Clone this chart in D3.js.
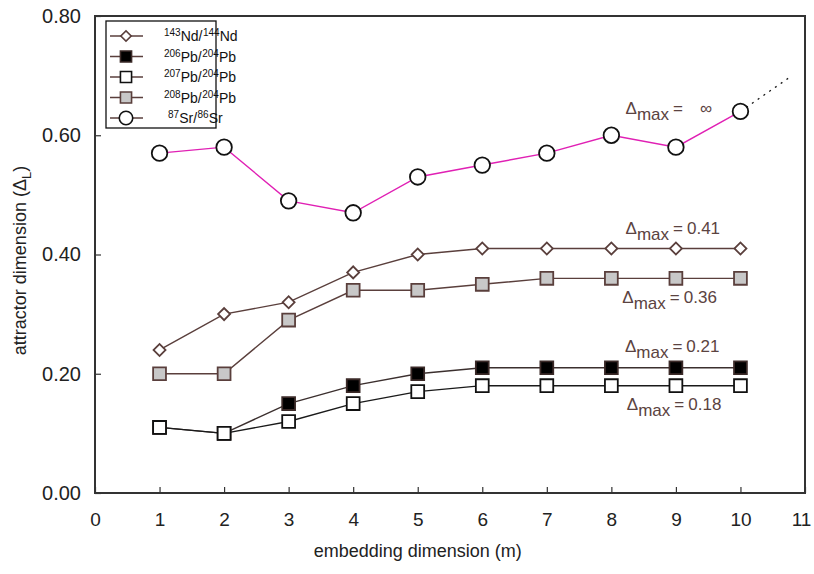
<!DOCTYPE html>
<html>
<head>
<meta charset="utf-8">
<script src="https://cdn.jsdelivr.net/npm/d3@7/dist/d3.min.js"></script>
<style>
  html, body { margin: 0; padding: 0; background: #fff; overflow: hidden; }
  svg { display: block; }
  text { font-family: "Liberation Sans", Arial, sans-serif; }
</style>
</head>
<body>
<svg width="814" height="574"></svg>
<script>
  const xs = [1, 2, 3, 4, 5, 6, 7, 8, 9, 10];
  const nd143 = [0.24, 0.30, 0.32, 0.37, 0.40, 0.41, 0.41, 0.41, 0.41, 0.41];
  const pb206 = [0.11, 0.10, 0.15, 0.18, 0.20, 0.21, 0.21, 0.21, 0.21, 0.21];
  const pb207 = [0.11, 0.10, 0.12, 0.15, 0.17, 0.18, 0.18, 0.18, 0.18, 0.18];
  const pb208 = [0.20, 0.20, 0.29, 0.34, 0.34, 0.35, 0.36, 0.36, 0.36, 0.36];
  const sr87 = [0.57, 0.58, 0.49, 0.47, 0.53, 0.55, 0.57, 0.60, 0.58, 0.64];
  const srExtension = [[10, 0.64], [10.8, 0.70]];
  const xTicks = [0, 1, 2, 3, 4, 5, 6, 7, 8, 9, 10, 11];
  const yTicks = [0, 0.2, 0.4, 0.6, 0.8];
  const annotations = [
    {x: 8.22, y: 0.636, label: '\u221E', gap: 17},
    {x: 8.22, y: 0.435, label: '0.41', gap: 4},
    {x: 8.17, y: 0.318, label: '0.36', gap: 4},
    {x: 8.21, y: 0.237, label: '0.21', gap: 4},
    {x: 8.24, y: 0.139, label: '0.18', gap: 4}
  ];

  const svg = d3.select('svg');
  const margin = {top: 16, right: 9, bottom: 81, left: 95};
  const width = +svg.attr('width');
  const height = +svg.attr('height');
  const innerWidth = width - margin.left - margin.right;
  const innerHeight = height - margin.top - margin.bottom;
  const brown = '#5a3f3c';

  const xScale = d3.scaleLinear().domain([0, 11]).range([0, innerWidth]);
  const yScale = d3.scaleLinear().domain([0, 0.8]).range([innerHeight, 0]);

  // lay out a run of text pieces (sub/superscripts) as separate text elements
  const runs = (parent, x, y, pieces, color) => {
    let cx = x;
    pieces.forEach(p => {
      cx += p.dx || 0;
      const t = parent.append('text')
        .attr('x', cx).attr('y', y + (p.dy || 0))
        .attr('font-size', p.size).attr('fill', color)
        .text(p.text);
      cx += t.node().getComputedTextLength();
    });
    return cx - x;
  };

  const g = svg.append('g')
    .attr('transform', `translate(${margin.left},${margin.top})`);

  // axes, ticks pointing inward
  const xAxisG = g.append('g')
    .attr('transform', `translate(0,${innerHeight})`)
    .call(d3.axisBottom(xScale).tickValues(xTicks).tickFormat(d3.format('d'))
      .tickSizeInner(-6).tickSizeOuter(0).tickPadding(20));
  const yAxisG = g.append('g')
    .call(d3.axisLeft(yScale).tickValues(yTicks).tickFormat(d3.format('.2f'))
      .tickSizeInner(-6).tickSizeOuter(0).tickPadding(14));
  [xAxisG, yAxisG].forEach(a => {
    a.attr('font-family', null);
    a.select('.domain').remove();
    a.selectAll('.tick line').attr('stroke', '#333').attr('stroke-width', 1.2);
    a.selectAll('.tick text').attr('fill', '#222');
  });
  xAxisG.attr('font-size', 19);
  xAxisG.selectAll('.tick text').attr('dx', d => d === 11 ? -4 : 0);
  yAxisG.attr('font-size', 20);

  g.append('rect')
    .attr('width', innerWidth).attr('height', innerHeight)
    .attr('fill', 'none').attr('stroke', '#333').attr('stroke-width', 2);

  svg.append('text')
    .attr('x', margin.left + xScale(5)).attr('y', 557)
    .attr('text-anchor', 'middle').attr('font-size', 18).attr('fill', '#222')
    .text('embedding dimension (m)');

  // y label, rotated
  const yLabG = svg.append('g')
    .attr('transform', `translate(26,${margin.top + innerHeight / 2 + 6}) rotate(-90)`);
  const yLabInner = yLabG.append('g');
  const yLabW = runs(yLabInner, 0, 0, [
    {text: 'attractor dimension (\u0394', size: 18},
    {text: 'L', size: 13, dy: 5},
    {text: ' )', size: 18}
  ], '#222');
  yLabInner.attr('transform', `translate(${-yLabW / 2},0)`);

  const line = d3.line().x(d => xScale(d[0])).y(d => yScale(d[1]));
  const pairs = vals => xs.map((x, i) => [x, vals[i]]);

  const series = [
    {name: ['143', 'Nd/', '144', 'Nd'], vals: nd143, line: brown, sym: d3.symbolSquare, rot: 45, size: 72, fill: '#fff', stroke: brown},
    {name: ['206', 'Pb/', '204', 'Pb'], vals: pb206, line: '#3b2f2e', sym: d3.symbolSquare, rot: 0, size: 165, fill: '#000', stroke: '#3b2a28'},
    {name: ['207', 'Pb/', '204', 'Pb'], vals: pb207, line: '#1a1a1a', sym: d3.symbolSquare, rot: 0, size: 165, fill: '#fff', stroke: '#111'},
    {name: ['208', 'Pb/', '204', 'Pb'], vals: pb208, line: brown, sym: d3.symbolSquare, rot: 0, size: 165, fill: '#c8c8c8', stroke: brown},
    {name: ['87', 'Sr/', '86', 'Sr'], vals: sr87, line: '#e020b4', sym: d3.symbolCircle, rot: 0, size: 190, fill: '#fff', stroke: '#111'}
  ];

  g.append('path')
    .attr('d', line(srExtension))
    .attr('fill', 'none').attr('stroke', '#111').attr('stroke-width', 1.3)
    .attr('stroke-dasharray', '2,5');

  series.forEach(s => {
    g.append('path')
      .attr('d', line(pairs(s.vals)))
      .attr('fill', 'none').attr('stroke', s.line).attr('stroke-width', 1.4);
    g.selectAll(null).data(pairs(s.vals)).enter().append('path')
      .attr('d', d3.symbol().type(s.sym).size(s.size))
      .attr('transform', d => `translate(${xScale(d[0])},${yScale(d[1])}) rotate(${s.rot})`)
      .attr('fill', s.fill).attr('stroke', s.stroke).attr('stroke-width', 1.8);
  });

  // annotations
  annotations.forEach(a => {
    runs(g, xScale(a.x), yScale(a.y), [
      {text: '\u0394', size: 17},
      {text: 'max', size: 17, dy: 6},
      {text: '=', size: 17, dx: 4},
      {text: a.label, size: 17, dx: a.gap}
    ], '#5b4341');
  });

  // legend
  const leg = svg.append('g').attr('transform', 'translate(106,21)');
  leg.append('rect').attr('width', 110).attr('height', 107)
    .attr('fill', '#fff').attr('stroke', '#111').attr('stroke-width', 1.3);
  series.forEach((s, i) => {
    const y = 15 + i * 20.5;
    leg.append('line').attr('x1', 4).attr('x2', 37).attr('y1', y).attr('y2', y)
      .attr('stroke', brown).attr('stroke-width', 1.4);
    leg.append('path')
      .attr('d', d3.symbol().type(s.sym).size(s.size * 0.75))
      .attr('transform', `translate(20,${y}) rotate(${s.rot})`)
      .attr('fill', s.fill).attr('stroke', s.stroke).attr('stroke-width', 1.6);
    runs(leg, i === 4 ? 62 : 58, y + 5, [
      {text: s.name[0], size: 10, dy: -5},
      {text: s.name[1], size: 14},
      {text: s.name[2], size: 10, dy: -5, dx: 0.5},
      {text: s.name[3], size: 14}
    ], '#111');
  });
</script>
</body>
</html>
